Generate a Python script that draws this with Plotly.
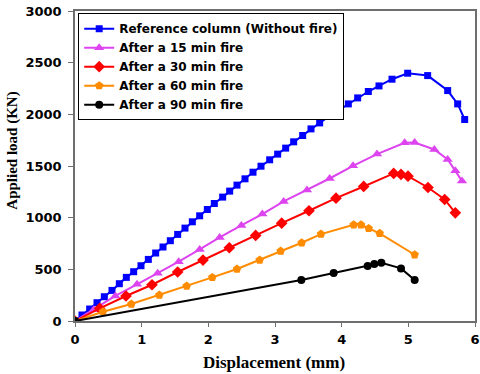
import plotly.graph_objects as go

names = ["Reference column (Without fire)", "After a 15 min fire", "After a 30 min fire",
         "After a 60 min fire", "After a 90 min fire"]

ref_x = [0, 0.105, 0.22, 0.33, 0.44, 0.555, 0.665, 0.77, 0.88, 0.99, 1.10, 1.21, 1.32, 1.43, 1.54,
         1.65, 1.76, 1.87, 1.985, 2.09, 2.215, 2.32, 2.43, 2.55, 2.67, 2.79, 2.92, 3.04, 3.16, 3.28,
         3.415, 3.54, 3.67, 3.815, 3.955, 4.10, 4.24, 4.40, 4.56, 4.755, 4.99, 5.29, 5.59, 5.74, 5.845]
ref_y = [0, 58, 116, 177, 235, 296, 361, 422, 477, 535, 596, 658, 716, 777, 838, 899, 960, 1018,
         1079, 1137, 1199, 1257, 1315, 1376, 1440, 1498, 1560, 1615, 1673, 1734, 1795, 1859, 1917,
         1982, 2040, 2101, 2159, 2221, 2275, 2340, 2398, 2375, 2230, 2101, 1950]

f15_x = [0, 0.28, 0.605, 0.93, 1.24, 1.555, 1.87, 2.17, 2.495, 2.81, 3.13, 3.48, 3.82, 4.17, 4.53,
         4.945, 5.095, 5.39, 5.59, 5.705, 5.805]
f15_y = [0, 110, 242, 355, 461, 574, 693, 809, 925, 1035, 1157, 1267, 1379, 1502, 1615, 1724,
         1727, 1660, 1563, 1453, 1354]

f30_x = [0, 0.37, 0.765, 1.155, 1.54, 1.92, 2.315, 2.71, 3.10, 3.51, 3.915, 4.33, 4.78, 4.89,
         4.995, 5.295, 5.545, 5.705]
f30_y = [0, 122, 242, 351, 474, 590, 709, 828, 947, 1067, 1189, 1302, 1428, 1418, 1402, 1292,
         1176, 1047]

f60_x = [0, 0.42, 0.845, 1.265, 1.675, 2.06, 2.43, 2.77, 3.085, 3.40, 3.69, 4.18, 4.29, 4.405,
         4.57, 5.095]
f60_y = [0, 90, 164, 251, 338, 422, 503, 590, 677, 757, 841, 931, 931, 896, 848, 641]

f90_x = [0, 3.395, 3.88, 4.39, 4.49, 4.595, 4.89, 5.095]
f90_y = [0, 396, 464, 532, 551, 564, 509, 396]

x_ticks = [0, 1, 2, 3, 4, 5, 6]
y_ticks = [0, 500, 1000, 1500, 2000, 2500, 3000]
x_title = "Displacement (mm)"
y_title = "Applied load (KN)"

series = [
    (ref_x, ref_y, "#0000FF", "square", 7),
    (f15_x, f15_y, "#DD44F0", "triangle-up", 9),
    (f30_x, f30_y, "#FF0000", "diamond", 9),
    (f60_x, f60_y, "#FF8C00", "pentagon", 9),
    (f90_x, f90_y, "#000000", "circle", 8),
]

fig = go.Figure()
for name, (xs, ys, col, sym, sz) in zip(names, series):
    fig.add_trace(go.Scatter(
        x=xs, y=ys, name=name, mode="lines+markers",
        line=dict(color=col, width=2),
        marker=dict(color=col, symbol=sym, size=sz),
    ))

axis_col = "#6e6e6e"
tick_font = dict(family="DejaVu Sans", size=13, color="black", weight="bold")
title_font = dict(family="Liberation Serif, Times New Roman", color="black", weight="bold")

fig.update_layout(
    width=480, height=374,
    margin=dict(l=75, r=5, t=11, b=53),
    paper_bgcolor="white", plot_bgcolor="white",
    showlegend=True,
    legend=dict(
        x=0.008, y=0.993, xanchor="left", yanchor="top",
        bordercolor="black", borderwidth=1, bgcolor="white",
        font=dict(family="DejaVu Sans", size=12, color="black", weight="bold"),
        tracegroupgap=0, itemwidth=30,
    ),
    xaxis=dict(
        range=[0, 6], tickvals=x_ticks, ticktext=[str(v) for v in x_ticks],
        showgrid=False, zeroline=False, showline=True, mirror=True, automargin=False,
        linecolor=axis_col, linewidth=1.5, ticks="outside", ticklen=4, tickcolor=axis_col,
        tickfont=tick_font, ticklabelstandoff=2,
    ),
    yaxis=dict(
        range=[0, 3000], tickvals=y_ticks, ticktext=[str(v) for v in y_ticks],
        showgrid=False, zeroline=False, showline=True, mirror=True, automargin=False,
        linecolor=axis_col, linewidth=1.5, ticks="outside", ticklen=5, tickcolor=axis_col,
        tickfont=tick_font, ticklabelstandoff=4,
    ),
    annotations=[
        dict(text=x_title, xref="paper", yref="paper", x=0.497, y=-0.135,
             xanchor="center", yanchor="middle", showarrow=False,
             font=dict(size=17, **title_font)),
        dict(text=y_title, xref="paper", yref="paper", x=-0.157, y=0.55,
             xanchor="center", yanchor="middle", showarrow=False, textangle=-90,
             font=dict(size=15, **title_font)),
    ],
)

# remove the browser's default 8px body margin so the figure fills the window exactly
fig.write_html("out.html", config={"displayModeBar": False},
               post_script="document.body.style.margin='0';")
